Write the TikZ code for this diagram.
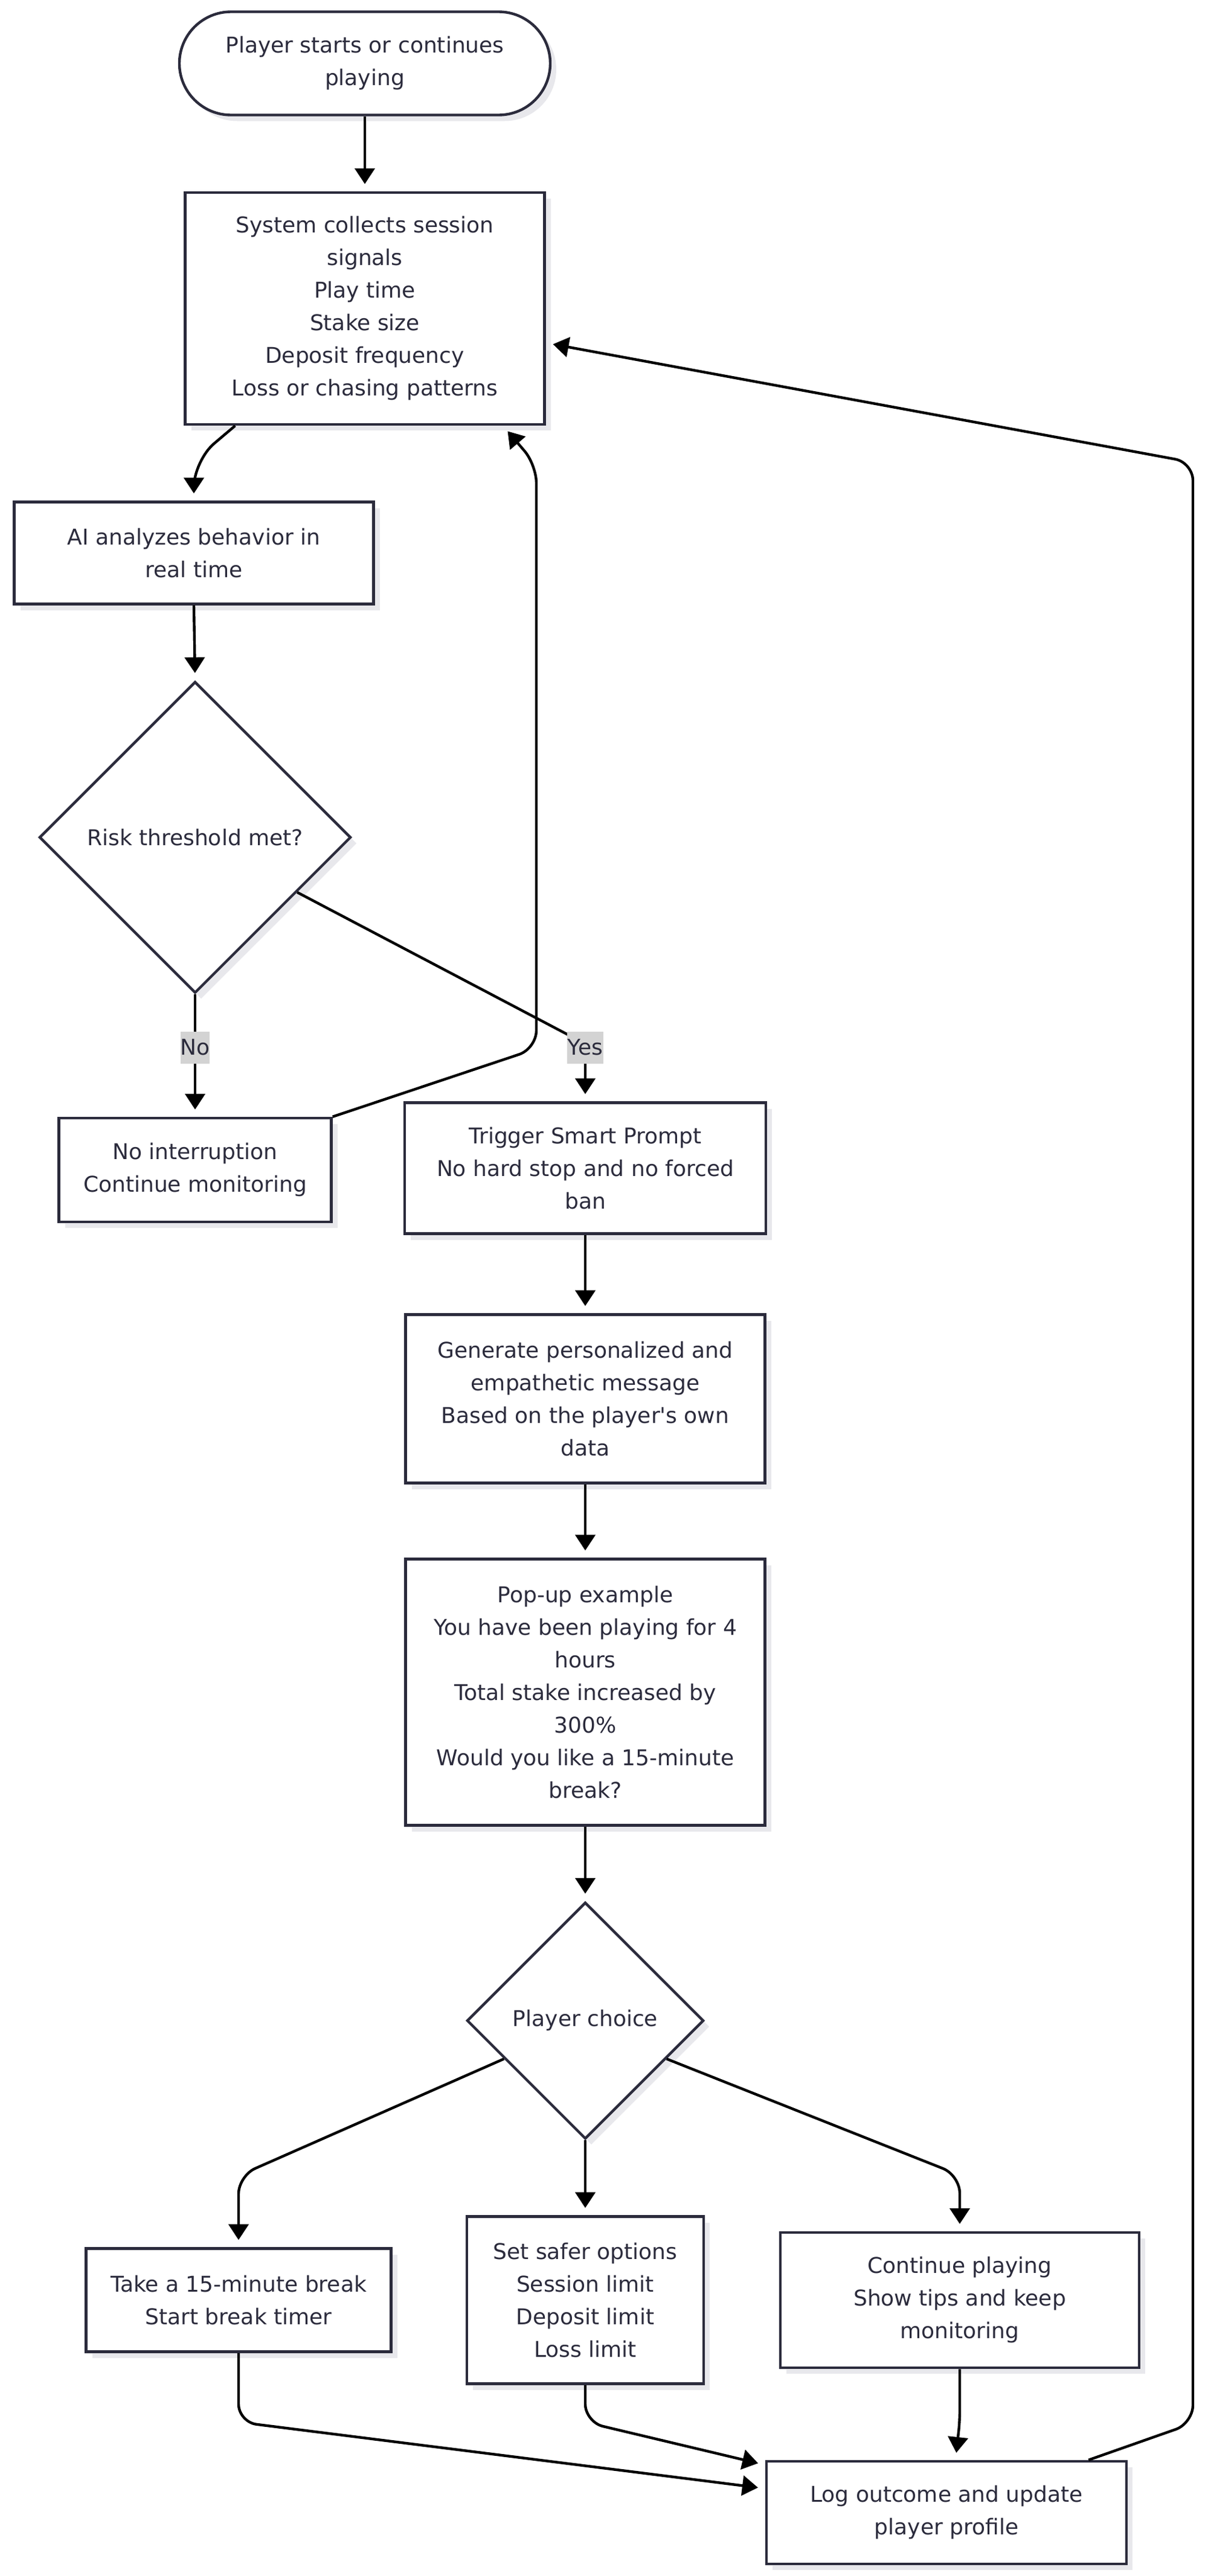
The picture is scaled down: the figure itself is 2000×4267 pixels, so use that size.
\documentclass[tikz,border=0pt]{standalone}
\usepackage{fontspec}
\setmainfont{DejaVu Sans}[Ligatures=TeXOff]
\usetikzlibrary{shapes.geometric,shapes.misc,arrows.meta,calc,shadows}
\definecolor{ink}{HTML}{2B2B3C}
\definecolor{lblbg}{HTML}{D3D3D3}
\definecolor{shade}{HTML}{E8E8EC}
\begin{document}
\begin{tikzpicture}[x=0.5pt,y=-0.5pt,
  box/.style={draw=ink, line width=2.2pt, fill=white, text=ink, align=center,
    inner sep=0pt, font=\fontsize{18pt}{27pt}\selectfont,
    drop shadow={shadow xshift=5pt, shadow yshift=-5pt, fill=shade, opacity=1}},
  dia/.style={box, shape=diamond},
  term/.style={box, shape=rounded rectangle},
  lbl/.style={fill=lblbg, text=ink, inner sep=0pt, font=\fontsize{18pt}{27pt}\selectfont,
    minimum height=26.5pt},
  flow/.style={draw=black, line width=2.2pt, -{Triangle[length=13pt,width=16.5pt]},
    shorten >=6pt, rounded corners=15pt},
]
\useasboundingbox (0,0) rectangle (2000,4267);

% nodes
\node[term, minimum width=307pt, minimum height=85.5pt] (start) at (604,105)
  {Player starts or continues\\playing};
\node[box, minimum width=297.5pt, minimum height=192pt] (collect) at (604,511)
  {System collects session\\signals\\Play time\\Stake size\\Deposit frequency\\Loss or chasing patterns};
\node[box, minimum width=297.5pt, minimum height=84.5pt] (ai) at (321,916)
  {AI analyzes behavior in\\real time};
\node[dia, minimum width=258pt, minimum height=258pt] (risk) at (323,1387)
  {Risk threshold met?};
\node[box, minimum width=225.5pt, minimum height=86pt] (noint) at (323,1938)
  {No interruption\\Continue monitoring};
\node[box, minimum width=299pt, minimum height=108.5pt] (trigger) at (969,1935)
  {Trigger Smart Prompt\\No hard stop and no forced\\ban};
\node[box, minimum width=297.5pt, minimum height=139.5pt] (generate) at (969,2317)
  {Generate personalized and\\empathetic message\\Based on the player's own\\data};
\node[box, minimum width=297.5pt, minimum height=220.5pt] (popup) at (969,2803)
  {Pop-up example\\You have been playing for 4\\hours\\Total stake increased by\\300\%\\Would you like a 15-minute\\break?};
\node[dia, minimum width=196pt, minimum height=196pt] (choice) at (969,3347)
  {Player choice};
\node[box, minimum width=252.5pt, minimum height=85.5pt] (brk) at (395,3810)
  {Take a 15-minute break\\Start break timer};
\node[box, minimum width=196pt, minimum height=138.5pt] (safer) at (969,3810)
  {Set safer options\\Session limit\\Deposit limit\\Loss limit};
\node[box, minimum width=297pt, minimum height=112pt] (cont) at (1589,3810)
  {Continue playing\\Show tips and keep\\monitoring};
\node[box, minimum width=298pt, minimum height=85pt] (log) at (1567,4162)
  {Log outcome and update\\player profile};

% connectors
\draw[flow] (start.south) -- (collect.north);
\draw[flow, rounded corners=22pt] ($(collect.south west)+(85,0)$) -- (321,763) -- (ai.north);
\draw[flow] (ai.south) -- (risk.north);
\draw[flow] (risk.south) -- (noint.north);
\draw[flow] ($(risk.east)!0.35!(risk.south)$) -- (969,1729) -- (trigger.north);
\draw[flow] (noint.north east) -- (888,1737) -- (888,770) -- ($(collect.south east)+(-71,0)$);
\draw[flow] (trigger.south) -- (generate.north);
\draw[flow] (generate.south) -- (popup.north);
\draw[flow] (popup.south) -- (choice.north);
\draw[flow] ($(choice.west)!0.32!(choice.south)$) -- (395,3604) -- (brk.north);
\draw[flow] (choice.south) -- (safer.north);
\draw[flow] ($(choice.east)!0.32!(choice.south)$) -- (1589,3603) -- (cont.north);
\draw[flow] (brk.south) -- (395,4012) -- ($(log.west)+(0,-40)$);
\draw[flow] (safer.south) -- (969,4012) -- ($(log.west)+(0,-79)$);
\draw[flow, rounded corners=8pt] (cont.south) -- (1589,4010) -- ($(log.north)+(15,0)$);
\draw[flow] ($(log.north east)+(-65,0)$) -- (1975,4014) -- (1975,766) -- ($(collect.east)+(0,57)$);

% edge labels
\node[lbl, minimum width=22.5pt] (lno) at (323,1735) {No};
\node[lbl, minimum width=30pt] (lyes) at (969,1735) {Yes};
\end{tikzpicture}
\end{document}
